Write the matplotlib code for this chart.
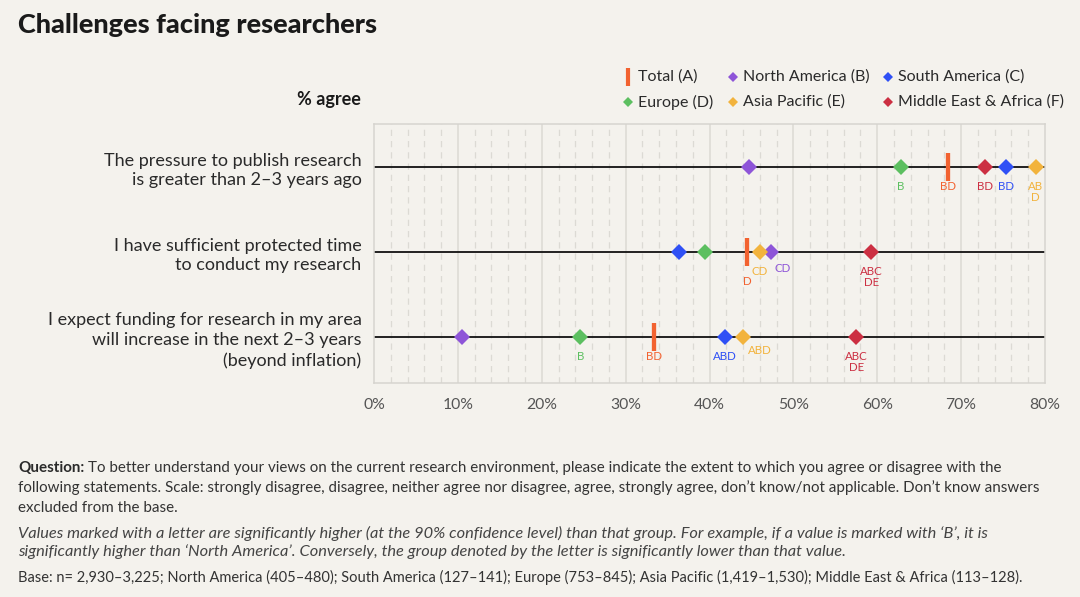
import matplotlib
matplotlib.use('Agg')
import matplotlib.pyplot as plt
from matplotlib.lines import Line2D

plt.rcParams['font.family'] = ['Lato', 'DejaVu Sans']

# 数据
statements = ['The pressure to publish research\nis greater than 2\u20133 years ago',
              'I have sufficient protected time\nto conduct my research',
              'I expect funding for research in my area\nwill increase in the next 2\u20133 years\n(beyond inflation)']
groups = ['Total (A)', 'North America (B)', 'South America (C)',
          'Europe (D)', 'Asia Pacific (E)', 'Middle East & Africa (F)']
total = [68.4, 44.5, 33.4]
north_america = [44.7, 47.3, 10.5]
south_america = [75.4, 36.4, 41.8]
europe = [62.8, 39.5, 24.6]
asia_pacific = [78.9, 46.0, 44.0]
middle_east = [72.9, 59.3, 57.5]

total_sig = ['BD', 'D', 'BD']
north_america_sig = ['', 'CD', '']
south_america_sig = ['BD', '', 'ABD']
europe_sig = ['B', '', 'B']
asia_pacific_sig = ['AB\nD', 'CD', 'ABD']
middle_east_sig = ['BD', 'ABC\nDE', 'ABC\nDE']

xticks = [0, 10, 20, 30, 40, 50, 60, 70, 80]

# 样式
bg = '#f4f2ed'
colors = ['#f26230', '#8e55d8', '#2f50f5', '#5cbf60', '#f2b33d', '#cc2f42']
W, H = 1080, 597

fig = plt.figure(figsize=(W / 100, H / 100), dpi=100, facecolor=bg)


def fx(px):
    return px / W


def fy(py):
    return 1 - py / H


ax = fig.add_axes([fx(374), fy(383), fx(1045) - fx(374), fy(124) - fy(383)])
ax.set_facecolor(bg)
ax.set_xlim(0, 80)
ax.set_ylim(2.54, -0.506)

# 网格
for v in range(2, 80, 2):
    if v % 10 == 0:
        ax.axvline(v, color='#dcdad4', lw=1.1, zorder=0)
    else:
        ax.axvline(v, color='#dcdad4', lw=0.9, ls=(0, (5, 4)), zorder=0)
for s in ax.spines.values():
    s.set_color('#d6d4cf')
    s.set_linewidth(1.1)

rows = list(range(len(statements)))
for r in rows:
    ax.axhline(r, color='#111111', lw=1.3, zorder=1)

ax.set_xticks(xticks)
ax.set_xticklabels(['{}%'.format(t) for t in xticks], fontsize=11.3, color='#555555')
ax.tick_params(axis='x', length=0, pad=11)
ax.set_yticks(rows)
ax.set_yticklabels(statements, fontsize=13, color='#2a2a2a', linespacing=1.3)
ax.tick_params(axis='y', length=0, pad=9)

series = [total, north_america, south_america, europe, asia_pacific, middle_east]
sigs = [total_sig, north_america_sig, south_america_sig, europe_sig, asia_pacific_sig, middle_east_sig]

# Total 竖条
ax.plot(total, rows, linestyle='none', marker='|', ms=19.5, mew=3.1, color=colors[0], zorder=4)
for gi in [1, 2, 3, 4, 5]:
    ax.plot(series[gi], rows, linestyle='none', marker='D', ms=7.8, color=colors[gi], zorder=3 + gi * 0.1,
            markeredgewidth=0)

# 显著性字母的偏移（像素）
offsets = {(0, 1): (0, -10), (1, 1): (12, 3), (4, 2): (17, 6)}
for gi, (vals, sig) in enumerate(zip(series, sigs)):
    for r in rows:
        if not sig[r]:
            continue
        dx, dy = offsets.get((gi, r), (0, 0))
        ax.annotate(sig[r], (vals[r], r), xytext=((0 + dx) * 0.72, (-14 + dy) * 0.72),
                    textcoords='offset points', ha='center', va='top', fontsize=8.3,
                    color=colors[gi], linespacing=0.95, zorder=5)

# 标题
fig.text(fx(18), fy(25), 'Challenges facing researchers', fontsize=19.5, fontweight='black',
         color='#1a1a1a', va='center', ha='left')
fig.text(fx(361), fy(100), '% agree', fontsize=13, fontweight='bold', color='#1a1a1a',
         va='center', ha='right')

# 图例
leg_pos = [(628, 77), (733, 77), (888, 77), (628, 102), (733, 102), (888, 102)]
for gi, (name, (px, py)) in enumerate(zip(groups, leg_pos)):
    if gi == 0:
        fig.add_artist(Line2D([fx(px)], [fy(py)], marker='|', ms=13, mew=3, color=colors[gi],
                              transform=fig.transFigure))
    else:
        fig.add_artist(Line2D([fx(px)], [fy(py)], marker='D', ms=5, mew=0, color=colors[gi],
                              transform=fig.transFigure))
    fig.text(fx(px + 10), fy(py), name, fontsize=11.5, color='#2a2a2a', va='center', ha='left')

# 脚注
fs = 10.9
fs_it = 11.8
q = fig.text(fx(18), fy(468), 'Question:', fontsize=fs, fontweight='bold', color='#2a2a2a',
             va='center', ha='left')
renderer = fig.canvas.get_renderer()
bb = q.get_window_extent(renderer)
fig.text(bb.x1 / W + fx(4), fy(468),
         'To better understand your views on the current research environment, please indicate the extent to which you agree or disagree with the',
         fontsize=fs, color='#333333', va='center', ha='left')
fig.text(fx(18), fy(488),
         'following statements. Scale: strongly disagree, disagree, neither agree nor disagree, agree, strongly agree, don\u2019t know/not applicable. Don\u2019t know answers',
         fontsize=fs, color='#333333', va='center', ha='left')
fig.text(fx(18), fy(508), 'excluded from the base.', fontsize=fs, color='#333333', va='center', ha='left')
fig.text(fx(18), fy(533),
         'Values marked with a letter are significantly higher (at the 90% confidence level) than that group. For example, if a value is marked with \u2018B\u2019, it is',
         fontsize=fs_it, color='#444444', style='italic', va='center', ha='left')
fig.text(fx(18), fy(552),
         'significantly higher than \u2018North America\u2019. Conversely, the group denoted by the letter is significantly lower than that value.',
         fontsize=fs_it, color='#444444', style='italic', va='center', ha='left')
fig.text(fx(18), fy(577),
         'Base: n= 2,930\u20133,225; North America (405\u2013480); South America (127\u2013141); Europe (753\u2013845); Asia Pacific (1,419\u20131,530); Middle East & Africa (113\u2013128).',
         fontsize=10.5, color='#333333', va='center', ha='left')

fig.savefig('out.png', dpi=100, facecolor=bg)
